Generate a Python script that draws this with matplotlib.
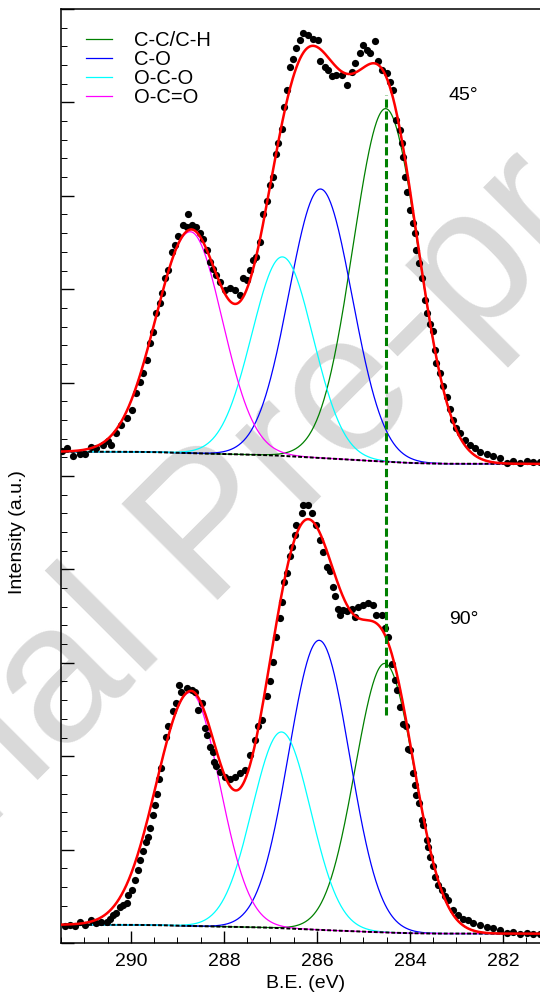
import numpy as np
import matplotlib.pyplot as plt
from matplotlib.ticker import MultipleLocator

plt.rcParams['font.family'] = ['Liberation Sans', 'DejaVu Sans']

# 组分名称与颜色
names = ['C-C/C-H', 'C-O', 'O-C-O', 'O-C=O']
colors = ['green', 'blue', 'cyan', 'magenta']

# 45° 拟合参数: 峰位 (eV), 峰高, 半高宽 (高BE侧 / 低BE侧)
c45 = [284.52, 285.92, 286.74, 288.72]
h45 = [3.78, 2.88, 2.13, 2.37]
wl45 = [1.65, 1.60, 1.55, 1.75]
wr45 = [1.65, 1.60, 1.55, 1.62]
bg45 = [5.13, 5.26]   # 背景: 低BE端, 高BE端

# 90° 拟合参数
c90 = [284.54, 285.95, 286.76, 288.72]
h90 = [2.88, 3.10, 2.10, 2.50]
wl90 = [1.50, 1.54, 1.48, 1.72]
wr90 = [1.50, 1.54, 1.48, 1.50]
bg90 = [0.10, 0.195]

# 45° 实验数据点
x45 = [291.48, 291.38, 291.24, 291.10, 290.99, 290.85, 290.74, 290.60, 290.49, 290.42,
       290.31, 290.20, 290.09, 289.98, 289.88, 289.81, 289.74, 289.65, 289.58, 289.52,
       289.45, 289.38, 289.32, 289.27, 289.20, 289.12, 289.05, 288.98, 288.88, 288.80,
       288.77, 288.69, 288.59, 288.52, 288.45, 288.37, 288.30, 288.23, 288.16, 288.09,
       287.98, 287.87, 287.76, 287.66, 287.58, 287.51, 287.44, 287.37, 287.30, 287.23,
       287.16, 287.08, 287.01, 286.94, 286.87, 286.83, 286.76, 286.71, 286.65, 286.58,
       286.51, 286.44, 286.37, 286.29, 286.19, 286.08, 285.97, 285.94, 285.83, 285.76,
       285.68, 285.58, 285.47, 285.36, 285.25, 285.18, 285.08, 285.00, 284.93, 284.86,
       284.75, 284.68, 284.61, 284.50, 284.43, 284.36, 284.29, 284.22, 284.18, 284.15,
       284.11, 284.07, 284.00, 283.94, 283.89, 283.86, 283.80, 283.75, 283.68, 283.63,
       283.57, 283.51, 283.46, 283.43, 283.35, 283.28, 283.21, 283.14, 283.07, 283.00,
       282.92, 282.82, 282.71, 282.60, 282.49, 282.35, 282.21, 282.06, 281.92, 281.78,
       281.63, 281.49, 281.35, 281.20]
y45 = [5.27, 5.30, 5.21, 5.24, 5.24, 5.31, 5.30, 5.33, 5.37, 5.33,
       5.46, 5.55, 5.62, 5.71, 5.89, 6.01, 6.10, 6.24, 6.42, 6.54,
       6.74, 6.85, 6.96, 7.12, 7.21, 7.40, 7.47, 7.57, 7.69, 7.67,
       7.80, 7.69, 7.67, 7.60, 7.54, 7.42, 7.29, 7.22, 7.15, 7.08,
       6.99, 7.01, 6.99, 6.94, 7.12, 7.10, 7.21, 7.31, 7.35, 7.51,
       7.80, 7.94, 8.12, 8.20, 8.45, 8.56, 8.72, 8.95, 9.13, 9.38,
       9.47, 9.58, 9.67, 9.74, 9.72, 9.68, 9.67, 9.44, 9.38, 9.35,
       9.28, 9.29, 9.29, 9.19, 9.33, 9.42, 9.53, 9.61, 9.56, 9.53,
       9.66, 9.44, 9.35, 9.31, 9.22, 9.13, 8.81, 8.70, 8.56, 8.42,
       8.20, 8.04, 7.85, 7.71, 7.60, 7.42, 7.28, 7.12, 6.88, 6.74,
       6.63, 6.55, 6.35, 6.21, 6.10, 5.96, 5.85, 5.72, 5.60, 5.51,
       5.46, 5.39, 5.33, 5.30, 5.26, 5.24, 5.21, 5.19, 5.14, 5.16,
       5.14, 5.16, 5.15, 5.15]

# 90° 实验数据点
x90 = [291.42, 291.31, 291.20, 291.10, 290.99, 290.85, 290.74, 290.63, 290.52, 290.45,
       290.38, 290.31, 290.24, 290.17, 290.09, 290.06, 289.98, 289.91, 289.84, 289.81,
       289.74, 289.68, 289.63, 289.59, 289.53, 289.48, 289.43, 289.39, 289.34, 289.25,
       289.20, 289.09, 289.03, 288.96, 288.91, 288.80, 288.69, 288.62, 288.55, 288.48,
       288.41, 288.37, 288.30, 288.24, 288.22, 288.16, 288.09, 287.98, 287.87, 287.76,
       287.66, 287.55, 287.44, 287.33, 287.26, 287.19, 287.08, 287.01, 286.94, 286.87,
       286.80, 286.76, 286.71, 286.65, 286.58, 286.54, 286.47, 286.44, 286.33, 286.29,
       286.19, 286.11, 286.01, 285.94, 285.86, 285.79, 285.72, 285.66, 285.61, 285.54,
       285.51, 285.43, 285.36, 285.25, 285.18, 285.11, 285.00, 284.90, 284.79, 284.72,
       284.61, 284.54, 284.47, 284.39, 284.32, 284.27, 284.22, 284.14, 284.09, 284.04,
       284.00, 283.94, 283.89, 283.86, 283.80, 283.75, 283.71, 283.64, 283.61, 283.57,
       283.51, 283.46, 283.39, 283.32, 283.25, 283.18, 283.07, 282.96, 282.85, 282.75,
       282.64, 282.49, 282.35, 282.21, 282.06, 281.92, 281.78, 281.63, 281.49, 281.35,
       281.20]
y90 = [0.18, 0.19, 0.18, 0.23, 0.19, 0.25, 0.21, 0.23, 0.23, 0.26,
       0.30, 0.32, 0.39, 0.41, 0.43, 0.51, 0.57, 0.67, 0.78, 0.89,
       0.98, 1.08, 1.14, 1.23, 1.37, 1.48, 1.60, 1.76, 1.87, 2.21,
       2.32, 2.48, 2.57, 2.76, 2.69, 2.73, 2.71, 2.69, 2.49, 2.57,
       2.30, 2.23, 2.10, 2.05, 1.94, 1.89, 1.83, 1.78, 1.76, 1.78,
       1.82, 1.85, 2.01, 2.17, 2.32, 2.39, 2.64, 2.81, 3.01, 3.28,
       3.48, 3.65, 3.87, 3.96, 4.14, 4.24, 4.37, 4.48, 4.60, 4.69,
       4.69, 4.60, 4.48, 4.31, 4.19, 4.03, 3.98, 3.81, 3.71, 3.58,
       3.51, 3.57, 3.55, 3.58, 3.49, 3.60, 3.62, 3.64, 3.62, 3.51,
       3.51, 3.37, 3.28, 2.99, 2.82, 2.71, 2.53, 2.35, 2.32, 2.08,
       2.07, 1.82, 1.69, 1.58, 1.50, 1.32, 1.26, 1.10, 1.03, 0.92,
       0.82, 0.71, 0.62, 0.57, 0.50, 0.46, 0.35, 0.30, 0.26, 0.25,
       0.21, 0.19, 0.17, 0.16, 0.14, 0.11, 0.12, 0.10, 0.11, 0.10,
       0.10]

x = np.linspace(281.0, 291.5, 800)


def peak(c, h, wl, wr):
    w = np.where(x > c, wl, wr)
    return h * np.exp(-4 * np.log(2) * (x - c) ** 2 / w ** 2)


def fit(cs, hs, wls, wrs, bg):
    comps = [peak(c, h, a, b) for c, h, a, b in zip(cs, hs, wls, wrs)]
    tot = np.sum(comps, axis=0)
    cum = np.cumsum(tot) / tot.sum()   # Shirley 型背景
    base = bg[0] + (bg[1] - bg[0]) * cum
    return base, comps, tot


fig = plt.figure(figsize=(5.4, 9.97), dpi=100)
ax = fig.add_axes([61 / 540, 54 / 997, 488.5 / 540, 934 / 997])
ax.set_facecolor('none')

# 水印
fig.text(0.395, 0.466, 'Journal Pre-proof', fontsize=142, color='#d9d9d9',
         rotation=45, rotation_mode='anchor', ha='center', va='center', zorder=-5)

for k, (cs, hs, wls, wrs, bg, xd, yd) in enumerate([
        (c45, h45, wl45, wr45, bg45, x45, y45),
        (c90, h90, wl90, wr90, bg90, x90, y90)]):
    base, comps, tot = fit(cs, hs, wls, wrs, bg)
    for comp, col, name in zip(comps, colors, names):
        ax.plot(x, base + comp, color=col, lw=0.9, label=name if k == 0 else None, zorder=2)
    ax.plot(x, base, color='k', lw=1.4, dashes=(2, 1), zorder=2.5)
    ax.plot(xd, yd, 'o', color='k', ms=5.2, mew=0, zorder=3)
    ax.plot(x, base + tot, color='red', lw=1.8, zorder=4)

# C-C 峰位竖线
ax.plot([284.52, 284.52], [2.44, 9.08], color='green', lw=2.2, dashes=(2.7, 1.2), zorder=5)

ax.text(282.86, 9.07, '45°', fontsize=14, ha='center', va='center')
ax.text(282.84, 3.46, '90°', fontsize=14, ha='center', va='center')

ax.set_xlim(291.5, 281.0)
ax.set_ylim(0, 10)
ax.xaxis.set_major_locator(MultipleLocator(2))
ax.xaxis.set_minor_locator(MultipleLocator(0.5))
ax.yaxis.set_major_locator(MultipleLocator(1))
ax.yaxis.set_minor_locator(MultipleLocator(0.2))
ax.tick_params(which='both', direction='in', top=False, right=False, labelleft=False,
               labelsize=14, pad=7)
ax.tick_params(which='major', length=9, width=1)
ax.tick_params(which='minor', length=4.5, width=0.7)
for s in ax.spines.values():
    s.set_linewidth(1.1)

ax.set_xlabel('B.E. (eV)', fontsize=14, labelpad=4)
fig.text(18 / 540, 1 - 532 / 997, 'Intensity (a.u.)', fontsize=14, rotation=90,
         ha='center', va='center')

ax.legend(loc='upper left', bbox_to_anchor=(0.034, 0.985), borderaxespad=0, frameon=False,
          fontsize=14.5, handlelength=1.3, handletextpad=1.1, labelspacing=0.0)

plt.savefig('out.png', dpi=100)
